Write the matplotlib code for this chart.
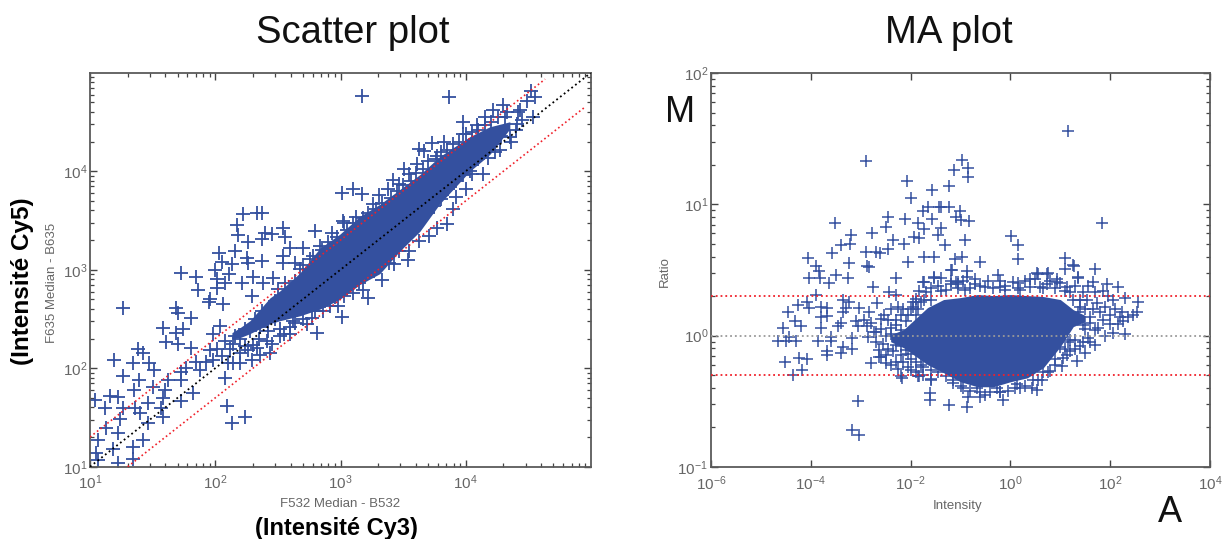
import numpy as np
import matplotlib
matplotlib.use('Agg')
import matplotlib.pyplot as plt

plt.rcParams['font.family'] = ['Liberation Sans', 'DejaVu Sans']
plt.rcParams['mathtext.default'] = 'regular'

BLUE = '#34509f'
GREY = '#666666'

# Scatter plot, single spots that can be told apart (log10 of intensity)
cy3_log = [2.22,2.33,2.37,2.17,2.18,2.26,2.40,2.45,2.54,2.56,2.37,2.80,2.60,2.70,2.03,2.16,2.25,2.05,2.13,2.26,
    2.37,2.54,2.54,2.64,1.73,1.85,2.00,2.01,2.11,2.08,2.21,2.30,2.38,2.46,1.86,2.01,1.96,2.29,1.26,1.69,
    2.06,1.95,1.81,1.70,1.58,1.74,1.69,1.98,2.04,1.61,1.70,1.38,1.42,1.81,1.19,1.34,1.47,1.51,1.26,1.39,
    1.35,1.50,1.62,1.73,1.60,1.73,1.16,1.22,1.04,1.12,1.26,1.36,1.46,1.58,1.73,1.82,1.57,1.40,1.24,1.58,
    1.46,1.13,1.22,1.06,1.18,1.34,1.42,1.05,1.34,1.22,1.06,2.09,2.24,2.13,2.08,1.93,1.85,1.98,1.88,1.77,
    2.01,2.14,2.14,2.20,2.26,2.41,2.33,2.44,2.29,2.36,2.24,2.52,2.60,2.73,2.86,2.98,3.10,3.01,3.22,3.33,
    2.81,3.43,3.54,2.68,2.76,2.84,2.93,3.03,3.12,3.26,3.31,3.38,3.42,3.47,3.51,3.55,3.61,3.63,3.67,3.73,
    3.83,3.77,3.98,4.09,3.98,4.15,4.22,4.30,4.42,4.43,4.31,4.41,4.52,4.55,4.49,4.54,4.27,4.18,4.14,4.05,
    4.00,3.90,3.85,3.77,3.17,3.87,3.01,3.10,3.17,3.02,3.18,3.71,3.63,3.55,3.47,3.39,3.27,3.15,3.03,2.92,
    2.77,2.64,2.52,3.92,4.03,4.23,4.35,2.56,2.64,2.48,2.37,2.32,2.24,2.16,2.08,1.96]
cy5_log = [3.57,3.58,3.58,3.45,3.35,3.28,3.37,3.36,3.42,3.33,3.31,3.39,3.22,3.22,3.17,3.19,3.12,3.08,3.06,3.07,
    3.09,3.14,3.07,3.07,2.97,2.93,3.00,2.91,2.96,2.86,2.86,2.93,2.87,2.92,2.79,2.81,2.70,2.73,2.61,2.61,
    2.65,2.67,2.51,2.56,2.41,2.40,2.36,2.35,2.43,2.27,2.25,2.20,2.15,2.21,2.08,2.05,2.05,1.98,1.92,1.88,
    1.78,1.81,1.88,1.96,1.78,1.88,1.72,1.71,1.68,1.60,1.60,1.60,1.65,1.70,1.67,1.75,1.60,1.55,1.48,1.50,
    1.44,1.39,1.34,1.27,1.18,1.20,1.27,1.14,1.08,1.04,1.07,1.62,1.50,1.44,1.90,2.06,2.06,2.08,1.98,2.00,
    2.20,2.25,2.05,2.05,2.18,2.28,2.21,2.15,2.08,2.13,2.23,2.33,2.35,2.45,2.58,2.63,2.76,2.52,2.71,2.90,
    2.36,3.06,3.10,3.01,3.11,3.24,3.37,3.47,3.54,3.67,3.76,3.82,3.91,3.87,4.02,3.97,4.07,4.23,4.21,4.29,
    4.30,4.15,4.50,4.47,4.38,4.55,4.62,4.67,4.60,4.62,4.55,4.48,4.81,4.75,4.71,4.55,4.22,4.13,3.97,3.97,
    3.82,3.62,3.46,3.42,4.76,4.75,3.78,3.82,3.77,3.49,2.79,3.34,3.29,3.19,3.19,3.07,2.99,2.86,2.73,2.63,
    2.51,2.46,2.40,3.74,4.00,4.20,4.35,2.86,2.89,2.68,2.58,2.50,2.40,2.33,2.28,2.18]

# Scatter plot, spots crowding the rim of the solid band
rim_cy3_log = [2.70,2.78,2.85,2.90,2.97,3.05,3.10,3.18,3.22,3.28,3.33,3.40,3.45,3.50,3.56,3.60,3.66,3.70,3.76,3.80,
    3.85,3.90,3.95,4.00,4.05,4.10,4.15,4.20,4.26,4.33,
    2.60,2.70,2.80,2.88,2.96,3.05,3.12,3.20,3.28,3.35,3.42,3.50,3.58,3.64,3.70,3.75,3.80,3.86,3.92,3.98,
    4.04,4.10,4.16,4.22,4.28,4.36,4.40,4.45,
    2.20,2.28,2.30,2.36,2.42,2.42,2.48,2.50,2.55,2.60,2.20,2.12,2.05,2.10,2.35,2.45,2.55,2.62,2.50,2.66]
rim_cy5_log = [3.05,3.14,3.20,3.28,3.33,3.40,3.47,3.52,3.58,3.62,3.68,3.73,3.80,3.86,3.90,3.98,4.02,4.10,4.12,4.20,
    4.22,4.28,4.30,4.38,4.40,4.42,4.47,4.50,4.55,4.60,
    2.42,2.50,2.58,2.68,2.72,2.80,2.90,3.00,3.08,3.16,3.25,3.32,3.42,3.50,3.58,3.65,3.72,3.82,3.90,3.96,
    4.06,4.12,4.22,4.28,4.36,4.30,4.42,4.52,
    2.30,2.38,2.24,2.42,2.38,2.58,2.50,2.62,2.70,2.75,2.15,2.20,2.12,2.05,2.30,2.25,2.35,2.48,2.80,2.85]

# Scatter plot, where the spots merge into solid colour: edges of that mass
band_cy3_log = [2.133,2.197,2.277,2.437,2.516,2.676,2.836,2.995,3.155,3.314,3.474,3.634,3.793,4.033,4.192,4.352]
band_top_log = [2.361,2.411,2.482,2.714,2.785,2.967,3.219,3.361,3.542,3.664,3.815,3.966,4.150,4.351,4.451,4.502]
band_bot_log = [2.300,2.310,2.351,2.452,2.482,2.532,2.600,2.700,2.850,2.960,3.190,3.390,3.670,4.000,4.170,4.430]

# MA plot, single spots (log10 of intensity and of ratio)
intensity_log = [-2.90,-3.52,-3.20,-2.78,-2.46,-2.50,-2.08,-2.00,-1.58,-2.12,-1.86,-1.76,-1.66,-1.44,-1.58,-1.74,-1.46,-2.14,-1.94,-1.84,
    -2.36,-3.40,-3.22,-3.58,-2.90,-2.70,-2.62,-2.46,-4.06,-3.90,-3.84,-3.24,-2.84,-2.88,-2.06,-1.74,-1.54,-4.04,-3.82,-3.50,
    -3.26,-2.30,-1.74,-1.54,-3.64,-2.76,1.16,-0.96,-1.14,-0.84,-0.84,-1.24,-1.40,-1.24,-1.02,-1.10,-1.00,-0.82,1.84,-1.40,
    -1.32,-0.90,0.02,0.16,0.16,-1.12,-0.96,-0.60,1.10,1.10,1.28,1.70,-1.18,-0.86,-0.24,-1.40,1.36,1.66,0.56,0.74,
    0.94,0.40,0.16,-0.10,-1.06,-0.70,-0.50,1.94,2.16,1.14,0.74,
    -3.90,-4.08,-3.36,-3.24,-2.68,-1.90,-1.74,-4.26,-4.04,-3.80,-3.68,-3.30,-3.04,-4.46,-3.36,-2.84,-2.54,-4.32,-4.20,-3.80,
    -3.68,-3.10,-3.40,-2.94,-2.80,-2.46,-4.56,-3.80,-3.46,-3.06,-2.88,-2.74,-4.44,-3.60,-2.86,-4.66,-4.50,-4.30,-3.86,-3.60,
    -3.18,-3.36,-3.18,-3.68,-3.40,-3.68,-2.64,-2.64,-2.50,-2.50,-2.80,-4.52,-4.24,-4.08,-4.18,-4.36,-2.26,-2.18,-2.06,-1.84,
    -1.60,-3.06,-1.62,-1.62,-3.18,-3.04,-1.24,-0.86,-0.60,-0.14,-0.84,0.54,0.44,0.14,-0.26,-0.66,-0.94,-1.16,-1.60,-1.86,
    -2.20,0.64,1.04,1.34,1.14,1.20,1.70,1.60,1.40,1.00,1.16,2.06,2.30,1.76,1.60,2.26,2.24,2.54,2.56,2.30,
    2.06,2.00,1.80,1.74,1.54,0.54,0.76,0.94,1.26,1.36,-1.20,-0.86,-1.10,-1.54,-1.76,-2.44,-2.30,-1.84,-1.96,-1.80,
    -1.20,-1.06,-2.30,-2.20,-2.10,-2.00,-1.90,-2.40,-2.30,-2.20,-2.10,-2.00,-1.80,-1.60,-1.40,-0.90,-0.20,0.20,0.60,1.10,
    1.40,1.36,1.50,1.30,-0.20,-0.50,0.20,0.80,0.90]
ratio_log = [1.33,0.86,0.77,0.78,0.90,0.83,1.18,1.05,1.11,0.89,0.86,0.95,0.98,0.98,0.89,0.81,0.77,0.70,0.75,0.74,
    0.73,0.69,0.70,0.63,0.64,0.64,0.63,0.66,0.59,0.53,0.49,0.55,0.52,0.53,0.56,0.60,0.60,0.44,0.44,0.46,
    0.44,0.44,0.41,0.44,0.40,0.37,1.56,1.34,1.26,1.28,1.21,1.14,0.98,0.98,0.95,0.90,0.88,0.87,0.86,0.82,
    0.69,0.73,0.76,0.69,0.58,0.58,0.60,0.56,0.59,0.51,0.53,0.51,0.50,0.49,0.46,0.44,0.44,0.41,0.47,0.47,
    0.43,0.43,0.40,0.38,0.41,0.39,0.37,0.39,0.37,0.37,0.39,
    0.31,0.26,0.27,0.26,0.25,0.26,0.27,0.23,0.21,0.22,0.21,0.21,0.21,0.18,0.18,0.18,0.16,0.11,0.07,0.14,
    0.15,0.11,0.10,0.12,0.10,0.12,0.06,0.06,0.07,0.07,0.07,0.03,-0.01,-0.01,-0.01,-0.04,-0.04,-0.04,-0.04,-0.04,
    -0.02,-0.09,-0.10,-0.12,-0.13,-0.15,-0.11,-0.16,-0.15,-0.21,-0.21,-0.20,-0.17,-0.18,-0.26,-0.30,-0.25,-0.32,-0.24,-0.31,
    -0.33,-0.50,-0.49,-0.44,-0.72,-0.76,-0.53,-0.54,-0.47,-0.49,-0.47,-0.41,-0.40,-0.37,-0.40,-0.40,-0.40,-0.36,-0.34,-0.31,
    -0.31,-0.34,-0.23,-0.19,-0.15,-0.12,-0.07,-0.05,-0.08,-0.09,-0.05,0.02,0.01,0.06,0.10,0.11,0.18,0.18,0.26,0.29,
    0.27,0.16,0.18,0.25,0.27,0.48,0.48,0.41,0.54,0.45,0.50,0.45,0.41,0.45,0.41,0.33,0.31,0.34,0.26,0.26,
    0.39,0.39,0.08,0.16,0.11,0.20,0.16,0.01,-0.07,-0.15,-0.11,-0.18,-0.22,0.27,0.34,0.35,0.37,0.35,0.37,0.34,
    0.27,0.18,0.05,-0.03,-0.43,-0.45,-0.40,-0.27,-0.18]

# MA plot, spots crowding the rim of the solid mass
rim_intensity_log = [-1.90,-1.70,-1.60,-1.45,-1.30,-1.20,-1.05,-0.95,-0.80,-0.70,-0.60,-0.45,-0.35,-0.20,-0.10,0.05,0.15,0.30,0.40,0.50,
    0.65,0.80,0.90,1.00,1.20,1.30,1.45,1.55,1.70,1.85,1.95,1.25,1.40,1.50,1.65,1.90,2.10,2.20,2.35,2.45,
    1.60,1.85,2.00,2.15,1.45,1.70,1.90,1.55,1.45,1.30,1.50,1.20,1.10,1.05,0.90,0.75,0.55,
    0.65,0.45,0.30,0.10,-0.05,-0.20,-0.40,-0.60,-0.80,-1.00,-1.15,-1.30,-1.45,-1.60,-1.75,-1.90,-2.05,-2.20,
    -2.60,-2.50,-2.55,-2.45,-2.40,-2.30,-2.20,-2.15,-2.05,-1.95,-1.85,-2.35,-2.30,-2.15,-2.00,-1.90,-1.75,-2.40,-2.60,-2.70,
    -2.70,-2.60,-2.40,-2.25]
rim_ratio_log = [0.28,0.33,0.36,0.38,0.35,0.42,0.36,0.42,0.36,0.43,0.38,0.42,0.36,0.42,0.35,0.41,0.36,0.42,0.37,0.43,
    0.36,0.42,0.36,0.40,0.33,0.38,0.33,0.38,0.33,0.34,0.30,0.27,0.22,0.20,0.20,0.22,0.20,0.14,0.14,0.16,
    0.14,0.12,0.09,0.09,0.08,0.04,0.00,-0.02,-0.05,-0.10,-0.13,-0.03,-0.10,-0.17,-0.22,-0.28,-0.34,
    -0.28,-0.34,-0.38,-0.40,-0.42,-0.43,-0.43,-0.43,-0.42,-0.38,-0.34,-0.31,-0.28,-0.26,-0.24,-0.20,-0.14,-0.08,
    0.05,0.00,-0.06,-0.10,0.06,0.12,0.04,0.20,0.16,0.22,0.20,-0.12,-0.20,-0.20,-0.26,-0.28,-0.30,-0.22,-0.16,-0.05,
    0.03,0.13,0.20,0.22]

# MA plot, edges of the solid mass
blob_intensity_log = [-2.40,-2.14,-1.66,-1.34,-1.00,-0.66,-0.34,0.00,0.34,0.66,1.00,1.26,1.50]
blob_top_log = [0.008,0.046,0.214,0.275,0.290,0.313,0.305,0.313,0.305,0.298,0.275,0.198,0.153]
blob_bot_log = [-0.046,-0.092,-0.221,-0.282,-0.351,-0.389,-0.389,-0.351,-0.321,-0.244,-0.084,0.069,0.107]

W, H = 1223, 539
fig = plt.figure(figsize=(W / 100, H / 100), dpi=100)


def make_axes(x0, x1, y0, y1):
    ax = fig.add_axes([x0 / W, 1 - y1 / H, (x1 - x0) / W, (y1 - y0) / H])
    ax.set_xscale('log')
    ax.set_yscale('log')
    for s in ax.spines.values():
        s.set_color('#5a5a5a')
        s.set_linewidth(1.3)
    ax.tick_params(which='both', direction='in', top=True, right=True, color='#444444',
                   labelcolor=GREY, labelsize=11)
    ax.tick_params(which='major', length=5, width=1.0)
    ax.tick_params(which='minor', length=3, width=0.9)
    ax.tick_params(axis='x', which='both', pad=5)
    ax.tick_params(axis='y', which='both', pad=2)
    return ax


# Scatter plot
ax1 = make_axes(90, 591, 72.7, 466.7)
ax1.set_xlim(10, 1e5)
ax1.set_ylim(10, 1e5)
ax1.set_xticks([10, 100, 1000, 10000])
ax1.set_yticks([10, 100, 1000, 10000])
ax1.fill_between(10 ** np.array(band_cy3_log), 10 ** np.array(band_bot_log), 10 ** np.array(band_top_log),
                 color=BLUE, lw=0, zorder=2)
ax1.plot(10 ** np.array(cy3_log), 10 ** np.array(cy5_log), '+', color=BLUE, ms=10.5, mew=1.3, zorder=2)
ax1.plot(10 ** np.array(rim_cy3_log), 10 ** np.array(rim_cy5_log), '+', color=BLUE, ms=10.5, mew=1.3, zorder=2)
ax1.plot([10, 1e5], [10, 1e5], ':', color='black', lw=1.3, zorder=3)
ax1.plot([10, 4.3e4], [20, 8.6e4], ':', color='#f0202a', lw=1.2, zorder=3)
ax1.plot([20, 9e4], [10, 4.5e4], ':', color='#f0202a', lw=1.2, zorder=3)

# MA plot
ax2 = make_axes(711, 1210, 73, 467)
ax2.set_xlim(1e-6, 1e4)
ax2.set_ylim(1e-1, 1e2)
ax2.set_xticks([1e-6, 1e-4, 1e-2, 1, 1e2, 1e4])
ax2.set_xticks([], minor=True)
ax2.set_yticks([1e-1, 1, 10, 100])
ax2.fill_between(10 ** np.array(blob_intensity_log), 10 ** np.array(blob_bot_log), 10 ** np.array(blob_top_log),
                 color=BLUE, lw=0, zorder=2)
ax2.plot(10.0 ** np.array(intensity_log), 10.0 ** np.array(ratio_log), '+', color=BLUE, ms=8, mew=1.1, zorder=2)
ax2.plot(10.0 ** np.array(rim_intensity_log), 10.0 ** np.array(rim_ratio_log), '+', color=BLUE, ms=8, mew=1.1, zorder=2)
ax2.axhline(2, ls=':', color='#f0202a', lw=1.3, zorder=3)
ax2.axhline(0.5, ls=':', color='#f0202a', lw=1.3, zorder=3)
ax2.axhline(1, ls=':', color='#999999', lw=1.3, zorder=3)


def put(x, y, s, **kw):
    fig.text(x / W, 1 - y / H, s, ha='center', va='center', **kw)


put(353, 33, 'Scatter plot', fontsize=27.5, color='#111111')
put(949, 33, 'MA plot', fontsize=27.5, color='#111111')
put(680, 112, 'M', fontsize=26, color='#111111')
put(1170, 512, 'A', fontsize=26, color='#111111')
put(340, 504, 'F532 Median - B532', fontsize=9.5, color=GREY)
put(336, 528, '(Intensité Cy3)', fontsize=17, fontweight='bold', color='black')
put(52, 283, 'F635 Median - B635', fontsize=9.5, color=GREY, rotation=90)
put(22, 281, '(Intensité Cy5)', fontsize=17.5, fontweight='bold', color='black', rotation=90)
put(665, 272, 'Ratio', fontsize=9.5, color=GREY, rotation=90)
put(958, 506, 'Intensity', fontsize=9.5, color=GREY)

fig.savefig('out.png', dpi=100)
